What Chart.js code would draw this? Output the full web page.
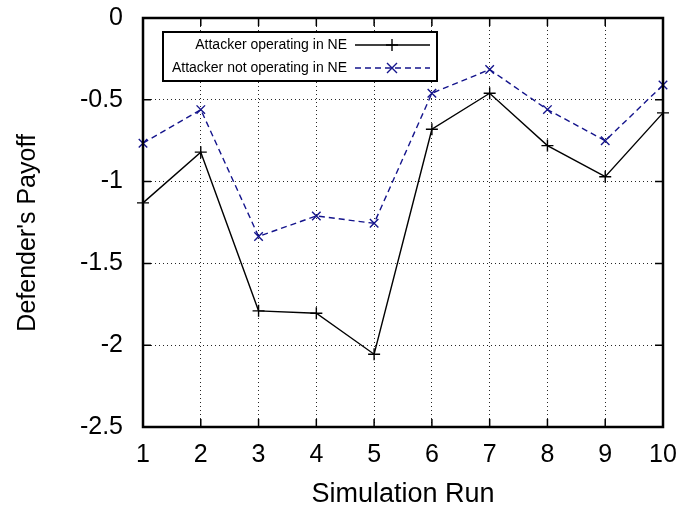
<!DOCTYPE html>
<html>
<head>
<meta charset="utf-8">
<script src="https://cdn.jsdelivr.net/npm/chart.js@4"></script>
<style>
  html, body { margin: 0; padding: 0; background: #fff; }
  #wrap { width: 697px; height: 508px; }
</style>
</head>
<body>
<div id="wrap"><canvas id="chart" width="697" height="508"></canvas></div>
<script>
const runs = [1, 2, 3, 4, 5, 6, 7, 8, 9, 10];
const inNE = [-1.13, -0.82, -1.79, -1.805, -2.055, -0.68, -0.46, -0.78, -0.97, -0.58];
const notInNE = [-0.765, -0.56, -1.335, -1.21, -1.255, -0.46, -0.315, -0.56, -0.75, -0.41];
const seriesNames = ["Attacker operating in NE", "Attacker not operating in NE"];
const yTicks = [0, -0.5, -1, -1.5, -2, -2.5];

const FONT = "'Liberation Sans', Arial, Helvetica, sans-serif";
const BLUE = "rgb(20, 20, 140)";

function toPoints(values) {
  return runs.map((r, i) => ({ x: r, y: values[i] }));
}

// gnuplot style frame, inward ticks and legend box
const framePlugin = {
  id: "frame",
  afterDraw(chart) {
    const { ctx, chartArea: a, scales } = chart;
    ctx.save();
    ctx.strokeStyle = "#000";
    ctx.lineWidth = 1.5;
    ctx.beginPath();
    runs.forEach((r) => {
      const x = scales.x.getPixelForValue(r);
      ctx.moveTo(x, a.bottom); ctx.lineTo(x, a.bottom - 8);
      ctx.moveTo(x, a.top); ctx.lineTo(x, a.top + 8);
    });
    yTicks.forEach((v) => {
      const y = scales.y.getPixelForValue(v);
      ctx.moveTo(a.left, y); ctx.lineTo(a.left + 8, y);
      ctx.moveTo(a.right, y); ctx.lineTo(a.right - 8, y);
    });
    ctx.stroke();
    ctx.lineWidth = 2.5;
    ctx.strokeRect(a.left, a.top, a.right - a.left, a.bottom - a.top);

    // legend
    const bx = 163, by = 32, bw = 274, bh = 49;
    ctx.fillStyle = "#fff";
    ctx.fillRect(bx, by, bw, bh);
    ctx.lineWidth = 2;
    ctx.strokeRect(bx, by, bw, bh);
    ctx.font = "14px " + FONT;
    ctx.textAlign = "right";
    ctx.textBaseline = "middle";
    const rows = [by + 13, by + 36];
    seriesNames.forEach((name, i) => {
      const y = rows[i];
      ctx.fillStyle = "#000";
      ctx.fillText(name, 347, y);
      const ds = chart.data.datasets[i];
      ctx.strokeStyle = ds.borderColor;
      ctx.lineWidth = 1.4;
      ctx.setLineDash(ds.borderDash || []);
      ctx.beginPath();
      ctx.moveTo(355, y); ctx.lineTo(430, y);
      ctx.stroke();
      ctx.setLineDash([]);
      ctx.beginPath();
      if (i === 0) {
        ctx.moveTo(392, y - 6); ctx.lineTo(392, y + 6);
        ctx.moveTo(386, y); ctx.lineTo(398, y);
      } else {
        ctx.moveTo(387, y - 5); ctx.lineTo(397, y + 5);
        ctx.moveTo(387, y + 5); ctx.lineTo(397, y - 5);
      }
      ctx.stroke();
    });
    ctx.restore();
  }
};

new Chart(document.getElementById("chart"), {
  type: "line",
  data: {
    datasets: [
      {
        label: seriesNames[0],
        data: toPoints(inNE),
        borderColor: "#000",
        backgroundColor: "#000",
        borderWidth: 1.4,
        pointStyle: "cross",
        pointRadius: 6,
        pointBorderWidth: 1.4,
        tension: 0,
        clip: false
      },
      {
        label: seriesNames[1],
        data: toPoints(notInNE),
        borderColor: BLUE,
        backgroundColor: BLUE,
        borderWidth: 1.4,
        borderDash: [6, 4],
        pointStyle: "crossRot",
        pointRadius: 6,
        pointBorderWidth: 1.4,
        tension: 0,
        clip: false
      }
    ]
  },
  options: {
    responsive: false,
    animation: false,
    layout: { padding: { top: 18, right: 34, left: 0, bottom: 0 } },
    plugins: {
      legend: { display: false },
      tooltip: { enabled: false }
    },
    scales: {
      x: {
        type: "linear",
        min: 1,
        max: 10,
        afterFit: (s) => { s.height = 81; s.paddingLeft = 0; s.paddingRight = 0; },
        afterBuildTicks: (s) => { s.ticks = runs.map((v) => ({ value: v })); },
        grid: { color: "rgba(0,0,0,0.85)", lineWidth: 1, drawTicks: false },
        border: { display: false, dash: [1, 3] },
        ticks: {
          color: "#000",
          padding: 13,
          font: { family: FONT, size: 25 }
        },
        title: {
          display: true,
          text: "Simulation Run",
          color: "#000",
          padding: { top: 0, bottom: -3 },
          font: { family: FONT, size: 27 }
        }
      },
      y: {
        type: "linear",
        min: -2.5,
        max: 0,
        afterFit: (s) => { s.width = 143; s.paddingTop = 0; s.paddingBottom = 0; },
        afterBuildTicks: (s) => { s.ticks = yTicks.map((v) => ({ value: v })); },
        grid: { color: "rgba(0,0,0,0.85)", lineWidth: 1, drawTicks: false },
        border: { display: false, dash: [1, 3] },
        ticks: {
          color: "#000",
          padding: 20,
          font: { family: FONT, size: 25 },
          callback: (v) => String(v)
        },
        title: {
          display: true,
          // trailing spaces nudge the centred title down a little, as in the original
          text: "Defender's Payoff   ",
          color: "#000",
          padding: { top: 13, bottom: 0 },
          font: { family: FONT, size: 25 }
        }
      }
    }
  },
  plugins: [framePlugin]
});
</script>
</body>
</html>
